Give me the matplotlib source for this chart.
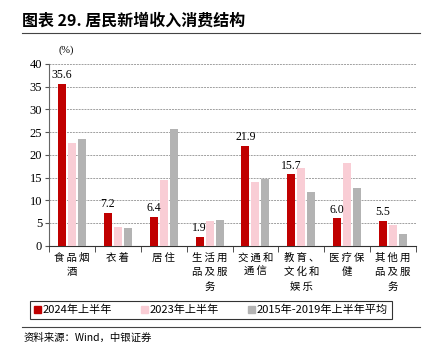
import matplotlib
matplotlib.use("Agg")
import matplotlib.pyplot as plt
import numpy as np
from matplotlib.lines import Line2D

plt.rcParams['font.family'] = ['Noto Sans CJK SC', 'DejaVu Sans']

categories = ["食品烟\n酒", "衣着", "居住", "生活用\n品及服\n务", "交通和\n通信",
              "教育、\n文化和\n娱乐", "医疗保\n健", "其他用\n品及服\n务"]
series_names = ["2024年上半年", "2023年上半年", "2015年-2019年上半年平均"]
v2024 = [35.6, 7.2, 6.4, 1.9, 21.9, 15.7, 6.0, 5.5]
v2023 = [22.6, 4.0, 14.5, 5.4, 14.0, 17.2, 18.1, 4.6]
v1519 = [23.4, 3.9, 25.6, 5.6, 14.7, 11.9, 12.7, 2.6]
colors = ["#C00000", "#F9CDD5", "#B3B3B3"]


def spaced(label):
    # a little letter spacing, like the original
    return "\n".join("\u2009".join(line) for line in label.split("\n"))


fig = plt.figure(figsize=(4.27, 3.55), dpi=100)
ax = fig.add_axes([0.115, 0.308, 0.859, 0.512])

x = np.arange(len(categories))
w = 0.175
step = 0.218
for i, (vals, c) in enumerate(zip([v2024, v2023, v1519], colors)):
    ax.bar(x + (i - 1) * step, vals, width=w, color=c, zorder=3)

for xi, v in zip(x, v2024):
    ax.text(xi - step, v + 0.6, f"{v:.1f}", ha="center", va="bottom",
            fontsize=8.5, family="Liberation Serif")

ax.set_ylim(0, 40)
ax.set_xlim(-0.5, len(categories) - 0.5)
ax.set_yticks(range(0, 41, 5))
ax.set_yticklabels([str(t) for t in range(0, 41, 5)], family="Liberation Serif", fontsize=9)
ax.yaxis.grid(True, linestyle=(0, (2, 1)), color="#A0A0A0", linewidth=0.7, zorder=0)
ax.set_xticks(x)
ax.set_xticklabels([spaced(c) for c in categories], fontsize=7.5, linespacing=1.55)
ax.set_xticks(np.arange(-0.5, len(categories)), minor=True)
ax.tick_params(axis="x", which="major", length=0, pad=5)
ax.tick_params(axis="x", which="minor", length=4, direction="out", color="#333333")
ax.tick_params(axis="y", length=3, direction="out", color="#555555", pad=2)
for s in ["top", "right"]:
    ax.spines[s].set_visible(False)
ax.spines["left"].set_color("#666666")
ax.spines["bottom"].set_color("#333333")

fig.text(0.137, 0.852, "(%)", fontsize=7.5, family="Liberation Serif")

fig.text(0.052, 0.943, "图表 29. 居民新增收入消费结构", fontsize=11.5, fontweight="bold", va="center")
fig.add_artist(Line2D([0.052, 0.984], [0.907, 0.907], color="#444444", linewidth=0.8))
fig.add_artist(Line2D([0.052, 0.984], [0.079, 0.079], color="#444444", linewidth=0.8))
fig.text(0.055, 0.047, "资料来源：Wind，中银证券", fontsize=7.5, style="italic", va="center")

handles = [plt.Rectangle((0, 0), 1, 1, color=c) for c in colors]
leg = fig.legend(handles, series_names, loc="center", bbox_to_anchor=(0.494, 0.126),
                 ncol=3, fontsize=8, frameon=True, fancybox=False, edgecolor="black",
                 handlelength=0.6, handleheight=0.6, handletextpad=0.2, columnspacing=2.6,
                 borderpad=0.35)
leg.get_frame().set_linewidth(0.8)

fig.savefig("out.png", dpi=100)
